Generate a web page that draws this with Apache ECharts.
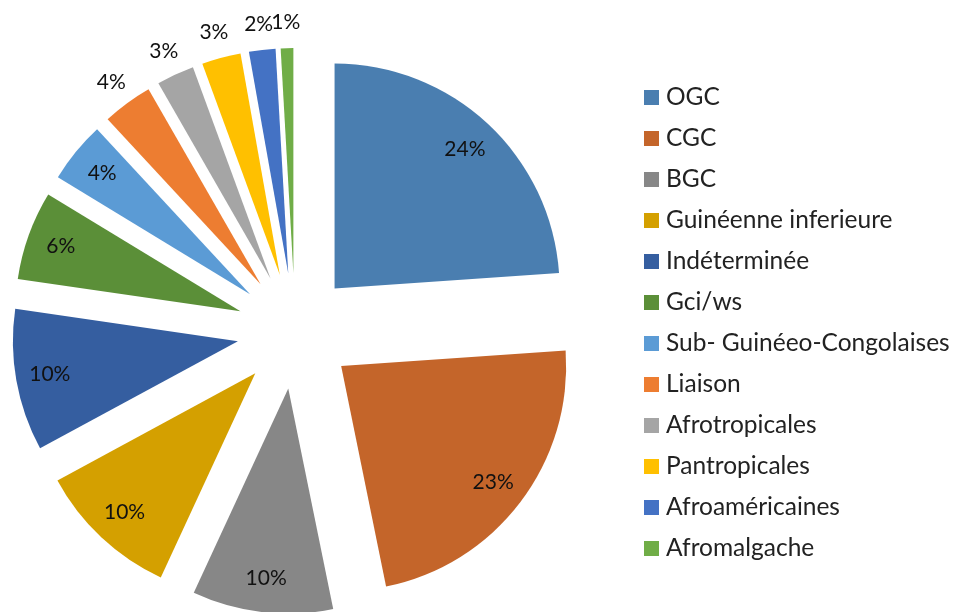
<!DOCTYPE html>
<html>
<head>
<meta charset="utf-8">
<title>Chorologie</title>
<script src="https://cdn.jsdelivr.net/npm/echarts@6/dist/echarts.min.js"></script>
<style>
  html, body { margin: 0; padding: 0; background: #fff; }
  #chart { width: 960px; height: 612px; }
</style>
</head>
<body>
<div id="chart"></div>
<script>
const categories = ['OGC', 'CGC', 'BGC', 'Guinéenne inferieure', 'Indéterminée', 'Gci/ws',
  'Sub- Guinéeo-Congolaises', 'Liaison', 'Afrotropicales', 'Pantropicales', 'Afroaméricaines', 'Afromalgache']
// parts (%)
const values = [23.9, 22.9, 10.1, 10.2, 10.2, 6.4, 4.4, 3.6, 2.7, 2.8, 1.9, 0.9]
const colors = ['#4a7eb0', '#c4652a', '#878787', '#d4a000', '#355ea0', '#5b8f38',
  '#5b9bd5', '#ed7d31', '#a5a5a5', '#ffc000', '#4472c4', '#70ad47']

const center = [295, 331]
const radius = 225
const offset = 58
const fontFamily = 'Lato, "Open Sans", sans-serif'
const clear = 'rgba(0,0,0,0)'

const total = values.reduce((a, b) => a + b, 0)
const pct = v => Math.round(v / total * 100) + '%'
const small = v => v < 4

function items(showLabel, color) {
  return categories.map((name, i) => ({
    name,
    value: values[i],
    selected: true,
    itemStyle: { color: color || colors[i] },
    label: { show: showLabel(values[i]) }
  }))
}

const base = {
  type: 'pie',
  center,
  startAngle: 90,
  clockwise: true,
  selectedMode: 'multiple',
  selectedOffset: offset,
  avoidLabelOverlap: false,
  labelLayout: { hideOverlap: false },
  animation: false,
  emphasis: { disabled: true }
}

const chart = echarts.init(document.getElementById('chart'), null, { renderer: 'canvas' })
chart.setOption({
  backgroundColor: '#fff',
  legend: {
    orient: 'vertical',
    left: 644,
    top: 85,
    padding: 0,
    itemWidth: 15,
    itemHeight: 15,
    itemGap: 16,
    icon: 'rect',
    selectedMode: false,
    data: categories,
    textStyle: { fontFamily, fontSize: 24.5, lineHeight: 24, color: '#222', padding: [0, 0, 0, 2] }
  },
  series: [
    // slices, small ones labelled outside
    Object.assign({}, base, {
      name: 'parts',
      radius,
      label: {
        position: 'outside', color: '#111', fontFamily, fontSize: 21,
        distanceToLabelLine: -14,
        formatter: p => pct(p.value)
      },
      labelLine: { show: false, length: 26, length2: 0 },
      data: items(small)
    }),
    // labels inside the bigger slices
    Object.assign({}, base, {
      name: 'inner',
      radius: [151, radius],
      silent: true,
      labelLine: { show: false },
      label: {
        position: 'inside', rotate: 0, color: '#111', fontFamily, fontSize: 21,
        formatter: p => pct(p.value)
      },
      data: items(v => !small(v), clear)
    })
  ]
})
</script>
</body>
</html>
